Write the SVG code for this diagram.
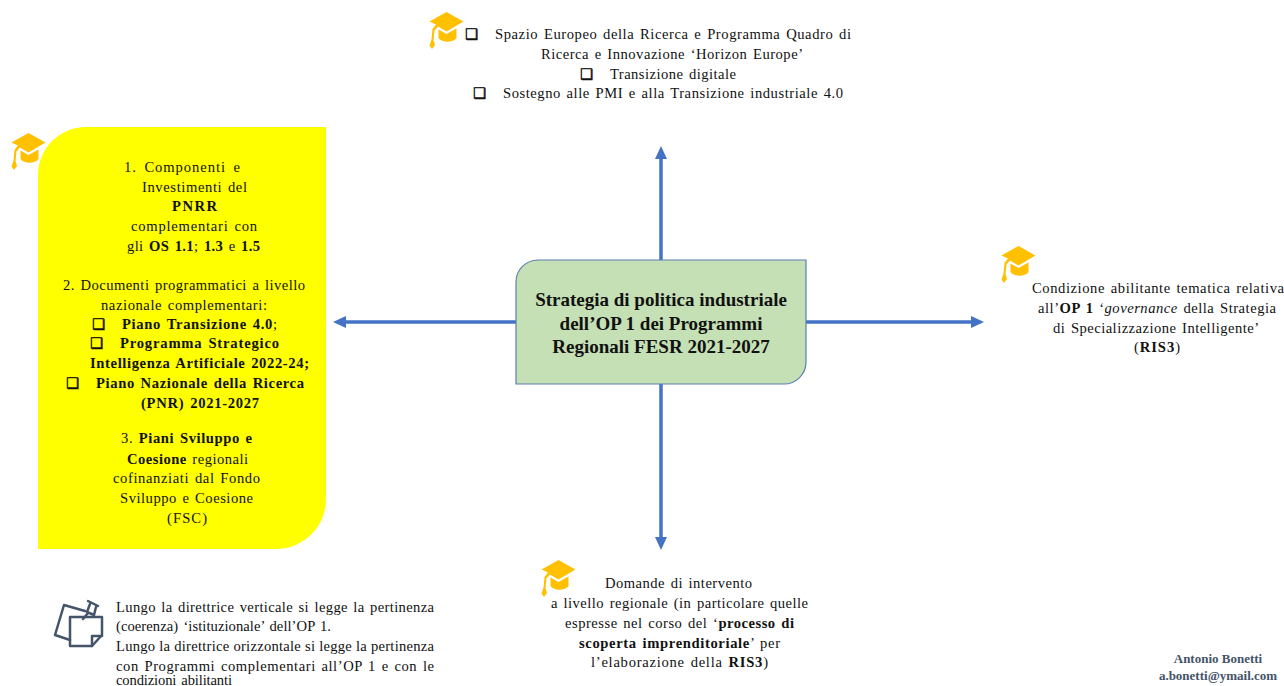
<svg xmlns="http://www.w3.org/2000/svg" width="1284" height="686" viewBox="0 0 1284 686">
<style>
text{font-family:"Liberation Serif","Times New Roman",serif;font-size:14.6px;fill:#111;word-spacing:1.5px}
.b{font-weight:bold}
.i{font-style:italic}
.cb{font-family:"DejaVu Sans",sans-serif;font-size:14.5px;font-weight:normal;stroke:#111;stroke-width:.5;word-spacing:0}
.h{font-size:19px;font-weight:bold;text-anchor:middle;word-spacing:0}
.sig{font-size:13px;font-weight:bold;fill:#44546A;text-anchor:middle;word-spacing:0}
.conn{stroke:#4472C4;stroke-width:3.500;fill:none;marker-end:url(#arr)}
</style>
<defs>
<marker id="arr" markerUnits="userSpaceOnUse" markerWidth="14" markerHeight="14" refX="7" refY="7" orient="auto">
<path d="M0 1L13 7L0 13Z" fill="#4472C4"/>
</marker>
<symbol id="hat" viewBox="0 0 35 37" overflow="visible">
<path fill="#FFC000" d="M17.500 0L34.500 9.500L17.500 19.500L9 14.500L5.500 18.500L4.500 28L6 33L3 37L0.500 33.500L2.500 27.500L3.500 17L7 12.500L0.500 9.500Z"/>
<path fill="#FFC000" d="M9.500 17.500L17.500 22L27.500 16.500L27.500 26C24 31 13 31 9.500 26Z"/>
</symbol>
</defs>
<g id="connectors">
<path class="conn" d="M661 260V152"/>
<path class="conn" d="M661 384V544"/>
<path class="conn" d="M516 322H339"/>
<path class="conn" d="M806 322H978"/>
</g>
<g id="center">
<path d="M538 260H806V362A22 22 0 0 1 784 384H516V282A22 22 0 0 1 538 260Z" fill="#C5E0B4" stroke="#5B7FB5" stroke-width="1.200"/>
<text class="h" x="661" y="306">Strategia di politica industriale</text>
<text class="h" x="661" y="330">dell’OP 1 dei Programmi</text>
<text class="h" x="661" y="353">Regionali FESR 2021-2027</text>
</g>
<g id="yellow-box">
<path d="M86 127H326V499A50 50 0 0 1 276 549H38V175A48 48 0 0 1 86 127Z" fill="#FFFF00"/>
<use href="#hat" x="11" y="133" width="35" height="37"/>
<text x="124" y="172" textLength="116" style="word-spacing:3px">1.   Componenti  e</text>
<text x="142" y="192" textLength="105">Investimenti del</text>
<text x="172" y="211" textLength="45" class="b">PNRR</text>
<text x="131" y="231" textLength="126">complementari con</text>
<text x="127" y="251" textLength="133">gli <tspan class="b">OS 1.1</tspan>; <tspan class="b">1.3</tspan> e <tspan class="b">1.5</tspan></text>
<text x="63" y="290" textLength="242">2. Documenti programmatici a livello</text>
<text x="101" y="310" textLength="166">nazionale complementari:</text>
<text x="92" y="329" class="cb">❑</text>
<text x="122" y="329" textLength="155"><tspan class="b">Piano Transizione 4.0</tspan>;</text>
<text x="90" y="348" class="cb">❑</text>
<text x="120" y="348" textLength="159" class="b">Programma Strategico</text>
<text x="90" y="368" textLength="219" class="b">Intelligenza Artificiale 2022-24;</text>
<text x="66" y="388" class="cb">❑</text>
<text x="96" y="388" textLength="208" class="b">Piano Nazionale della Ricerca</text>
<text x="141" y="408" textLength="118" class="b">(PNR) 2021-2027</text>
<text x="121" y="443" textLength="131">3. <tspan class="b">Piani Sviluppo e</tspan></text>
<text x="127" y="464" textLength="121"><tspan class="b">Coesione</tspan> regionali</text>
<text x="113" y="483" textLength="147">cofinanziati dal Fondo</text>
<text x="120" y="503" textLength="133">Sviluppo e Coesione</text>
<text x="167" y="523" textLength="40">(FSC)</text>
</g>
<g id="top-note">
<use href="#hat" x="429" y="12" width="35" height="37"/>
<text x="465" y="39" class="cb">❑</text>
<text x="495" y="39" textLength="356">Spazio Europeo della Ricerca e Programma Quadro di</text>
<text x="541" y="59" textLength="262">Ricerca e Innovazione ‘Horizon Europe’</text>
<text x="580" y="79" class="cb">❑</text>
<text x="610" y="79" textLength="126">Transizione digitale</text>
<text x="473" y="98" class="cb">❑</text>
<text x="503" y="98" textLength="340">Sostegno alle PMI e alla Transizione industriale 4.0</text>
</g>
<g id="right-note">
<use href="#hat" x="1001" y="246" width="35" height="37"/>
<text x="1032" y="293" textLength="252">Condizione abilitante tematica relativa</text>
<text x="1038" y="313" textLength="238">all’<tspan class="b">OP 1</tspan> ‘<tspan class="i">governance</tspan> della Strategia</text>
<text x="1053" y="333" textLength="206">di Specializzazione Intelligente’</text>
<text x="1134" y="352" textLength="46">(<tspan class="b">RIS3</tspan>)</text>
</g>
<g id="bottom-note">
<use href="#hat" x="541" y="560" width="35" height="37"/>
<text x="605" y="588" textLength="147">Domande di intervento</text>
<text x="551" y="608" textLength="257">a livello regionale (in particolare quelle</text>
<text x="565" y="628" textLength="229">espresse nel corso del ‘<tspan class="b">processo di</tspan></text>
<text x="579" y="648" textLength="201"><tspan class="b">scoperta imprenditoriale</tspan>’ per</text>
<text x="591" y="667" textLength="177">l’elaborazione della <tspan class="b">RIS3</tspan>)</text>
</g>
<g id="legend">
<g fill="none" stroke="#44546A" stroke-width="2.500" stroke-linejoin="round" stroke-linecap="round">
<path d="M85 611L64 605L55 635L70 640"/>
<path d="M70 617H102V635L92 646H70Z"/>
<path d="M92 646V636H102"/>
<path d="M88 601L98 606M90 604L87 612L94 615L96 607M88 613L83 619"/>
</g>
<text x="116" y="612" textLength="318">Lungo la direttrice verticale si legge la pertinenza</text>
<text x="116" y="631" textLength="215">(coerenza) ‘istituzionale’ dell’OP 1.</text>
<text x="116" y="651" textLength="318" style="word-spacing:0">Lungo la direttrice orizzontale si legge la pertinenza</text>
<text x="116" y="671" textLength="318">con Programmi complementari all’OP 1 e con le</text>
<text x="116" y="685" textLength="116">condizioni abilitanti</text>
</g>
<g id="signature">
<text class="sig" x="1218" y="663">Antonio Bonetti</text>
<text class="sig" x="1218" y="680">a.bonetti@ymail.com</text>
</g>
</svg>
